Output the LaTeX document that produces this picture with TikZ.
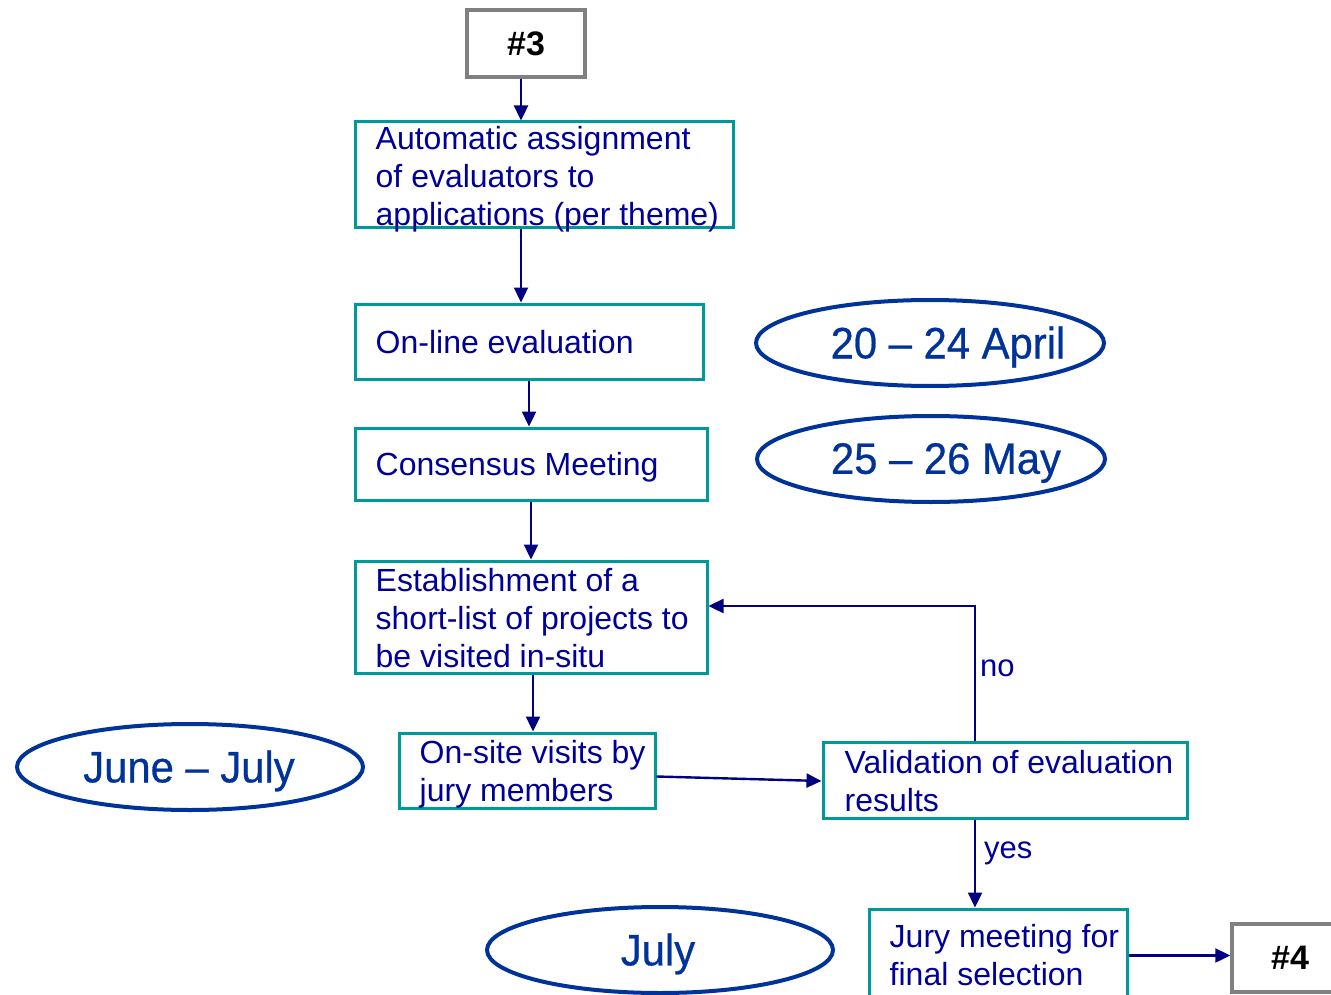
\documentclass[tikz,border=0pt]{standalone}
\usepackage{fontspec}
\setmainfont{Liberation Sans}
\newfontfamily\ellfont[FakeStretch=0.95,FakeBold=0.6]{Liberation Sans}
\usetikzlibrary{arrows.meta,shapes.geometric}
\definecolor{teal1}{HTML}{009999}
\definecolor{txtblue}{HTML}{000099}
\definecolor{arrblue}{HTML}{000080}
\definecolor{ellblue}{HTML}{003399}
\definecolor{gray1}{HTML}{808080}
\tikzset{
  stepbox/.style={draw=teal1, line width=3pt, rectangle, inner sep=0pt},
  graybox/.style={draw=gray1, line width=3.5pt, rectangle, inner sep=0pt, font=\fontsize{34}{40}\selectfont\bfseries, text=black},
  boxtxt/.style={anchor=west, align=left, inner sep=0pt, text=txtblue, font=\fontsize{32}{38}\selectfont},
  dateell/.style={draw=ellblue, line width=4pt, ellipse, inner sep=0pt},
  datetxt/.style={inner sep=0pt, text=ellblue, font=\ellfont\fontsize{44}{50}\selectfont},
  arr/.style={draw=arrblue, line width=2.4pt, -{Triangle[length=15pt,width=14pt]}},
  lbl/.style={inner sep=0pt, text=txtblue, font=\fontsize{31}{36}\selectfont}
}
\begin{document}
\begin{tikzpicture}[x=1pt,y=-1pt]
\useasboundingbox (0,0) rectangle (1331,995);
% gray boxes
\node[graybox, minimum width=118pt, minimum height=67pt] (g3) at (526,43.5) {\#3};
\node[graybox, minimum width=116pt, minimum height=68pt] (g4) at (1290,958) {\#4};
% step boxes
\node[stepbox, minimum width=378pt, minimum height=106pt] (b1) at (544,175) {};
\node[boxtxt] (t1) at ([xshift=22pt,yshift=-4pt]b1.west) {Automatic assignment\\of evaluators to\\applications (per theme)};
\node[stepbox, minimum width=348pt, minimum height=75pt] (b2) at (529,341.5) {};
\node[boxtxt] (t2) at ([xshift=22pt,yshift=-1pt]b2.west) {On-line evaluation};
\node[stepbox, minimum width=352pt, minimum height=72pt] (b3) at (531,464) {};
\node[boxtxt] (t3) at ([xshift=22pt,yshift=-3pt]b3.west) {Consensus Meeting};
\node[stepbox, minimum width=352pt, minimum height=112pt] (b4) at (531,617) {};
\node[boxtxt] (t4) at ([xshift=22pt,yshift=-1pt]b4.west) {Establishment of a\\short-list of projects to\\be visited in-situ};
\node[stepbox, minimum width=256pt, minimum height=75pt] (b5) at (527,770.5) {};
\node[boxtxt] (t5) at ([xshift=22pt,yshift=-4pt]b5.west) {On-site visits by\\jury members};
\node[stepbox, minimum width=364pt, minimum height=76pt] (b6) at (1005,780) {};
\node[boxtxt] (t6) at ([xshift=23pt,yshift=-1pt]b6.west) {Validation of evaluation\\results};
\node[stepbox, minimum width=258pt, minimum height=93pt] (b7) at (998,955.5) {};
\node[boxtxt] (t7) at ([xshift=22pt]b7.west) {Jury meeting for\\final selection};
% ellipses
\node[dateell, minimum width=348pt, minimum height=86pt] (e1) at (930,343) {};
\node[datetxt] (d1) at (948,347) {20 – 24 April};
\node[dateell, minimum width=348pt, minimum height=86pt] (e2) at (931,459) {};
\node[datetxt] (d2) at (946,463) {25 – 26 May};
\node[dateell, minimum width=346pt, minimum height=86pt] (e3) at (190,767) {};
\node[datetxt] (d3) at (189,771) {June – July};
\node[dateell, minimum width=346pt, minimum height=86pt] (e4) at (660,950) {};
\node[datetxt] (d4) at (658,954) {July};
% connectors
\draw[arr] ([xshift=-5pt]g3.south) -- ([xshift=-5pt]g3.south |- b1.north);
\draw[arr] ([xshift=-23pt]b1.south) -- ([xshift=-23pt]b1.south |- b2.north);
\draw[arr] (b2.south) -- (b2.south |- b3.north);
\draw[arr] (b3.south) -- (b3.south |- b4.north);
\draw[arr] ([xshift=2pt]b4.south) -- ([xshift=2pt]b4.south |- b5.north);
\draw[arr] ([yshift=-6pt]b5.east) -- ([yshift=-1pt]b6.west);
\draw[arr] ([xshift=-30pt]b6.north) |- ([yshift=11pt]b4.east)
  node[lbl, pos=0.27, anchor=west, xshift=4pt] {no};
\draw[arr] ([xshift=-30pt]b6.south) -- ([xshift=-30pt]b6.south |- b7.north)
  node[lbl, pos=0.38, anchor=west, xshift=8pt] {yes};
\draw[arr] (b7.east) -- (b7.east -| g4.west);
\end{tikzpicture}
\end{document}
